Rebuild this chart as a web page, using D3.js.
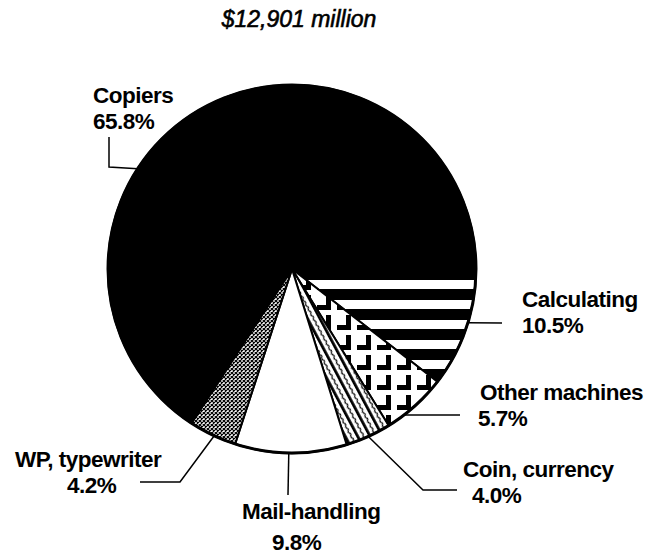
<!DOCTYPE html>
<html>
<head>
<meta charset="utf-8">
<script src="https://cdn.jsdelivr.net/npm/d3@7"></script>
<style>
  body { margin: 0; background: #fff; }
  text { font-family: "Liberation Sans", Arial, Helvetica, sans-serif; fill: #000; }
  .lbl { font-size: 22.5px; font-weight: bold; letter-spacing: -0.5px; }
  .title { font-size: 23px; font-style: italic; stroke: #000; stroke-width: 0.6px; }
  .leader { fill: none; stroke: #000; stroke-width: 1.5; }
</style>
</head>
<body>
<svg id="chart"></svg>
<script>
// data
const title = "$12,901 million";
const categories = ["Calculating", "Other machines", "Coin, currency", "Mail-handling", "WP, typewriter", "Copiers"];
const shares = [10.5, 5.7, 4.0, 9.8, 4.2, 65.8];
const shareLabels = ["10.5%", "5.7%", "4.0%", "9.8%", "4.2%", "65.8%"];
const fills = ["url(#stripes)", "url(#hooks)", "url(#diag)", "#fff", "url(#mesh)", "#000"];

// label layout: angle where the leader touches the pie (deg), elbow points, text position
const leaderAngles = [107, 142.5, 155.5, 181, 205, 303];
const leaderPoints = [
  [[502, 323]],
  [[460, 415]],
  [[423, 490], [457, 490]],
  [[288, 495]],
  [[180, 482], [140, 482]],
  [[109, 167], [109, 137]]
];
const labelPos = [[522, 307, 522], [480, 400, 478], [463, 477, 472], [242, 519, 272], [15, 467, 67], [93, 103, 93]];

const width = 654;
const height = 557;
const cx = 292, cy = 269, r = 184;

const svg = d3.select("#chart")
  .attr("width", width)
  .attr("height", height)
  .attr("viewBox", `0 0 ${width} ${height}`);

// fill patterns
const defs = svg.append("defs");

const stripes = defs.append("pattern")
  .attr("id", "stripes")
  .attr("patternUnits", "userSpaceOnUse")
  .attr("x", 0).attr("y", 11)
  .attr("width", 20).attr("height", 20);
stripes.append("rect").attr("width", 20).attr("height", 20).attr("fill", "#fff");
stripes.append("rect").attr("y", 9).attr("width", 20).attr("height", 11).attr("fill", "#000");

const hooks = defs.append("pattern")
  .attr("id", "hooks")
  .attr("patternUnits", "userSpaceOnUse")
  .attr("x", 2).attr("y", 4)
  .attr("width", 20).attr("height", 20);
hooks.append("rect").attr("width", 20).attr("height", 20).attr("fill", "#fff");
hooks.append("path").attr("d", "M12,2 h5 v15 h-14 v-5 h9 z").attr("fill", "#000");

const diag = defs.append("pattern")
  .attr("id", "diag")
  .attr("patternUnits", "userSpaceOnUse")
  .attr("width", 11).attr("height", 11)
  .attr("patternTransform", "rotate(-28)");
diag.append("rect").attr("width", 11).attr("height", 11).attr("fill", "#fff");
diag.append("rect").attr("x", 0).attr("width", 2.8).attr("height", 11).attr("fill", "#000");
diag.append("path").attr("d", "M6,0 L7.5,2.75 L6,5.5 L7.5,8.25 L6,11").attr("fill", "none").attr("stroke", "#000").attr("stroke-width", 1.2);

const mesh = defs.append("pattern")
  .attr("id", "mesh")
  .attr("patternUnits", "userSpaceOnUse")
  .attr("width", 4).attr("height", 4);
mesh.append("rect").attr("width", 4).attr("height", 4).attr("fill", "#fff");
mesh.append("path").attr("d", "M0,0 L4,4 M4,0 L0,4").attr("stroke", "#000").attr("stroke-width", 1.2);

// pie
const pie = d3.pie()
  .sort(null)
  .startAngle(Math.PI / 2)
  .endAngle(Math.PI / 2 + 2 * Math.PI)
  .value(d => d);

const arc = d3.arc().innerRadius(0).outerRadius(r);
const arcs = pie(shares);

const g = svg.append("g").attr("transform", `translate(${cx},${cy})`);

g.selectAll("path.slice")
  .data(arcs)
  .enter()
  .append("path")
  .attr("class", "slice")
  .attr("d", arc)
  .attr("fill", (d, i) => fills[i])
  .attr("stroke", "#000")
  .attr("stroke-width", 2)
  .attr("stroke-linejoin", "round");

g.append("circle")
  .attr("r", r)
  .attr("fill", "none")
  .attr("stroke", "#000")
  .attr("stroke-width", 3);

// leaders
const edgePoint = a => {
  const rad = a * Math.PI / 180;
  return [cx + r * Math.sin(rad), cy - r * Math.cos(rad)];
};

svg.selectAll("path.leader")
  .data(categories)
  .enter()
  .append("path")
  .attr("class", "leader")
  .attr("d", (d, i) => d3.line()([edgePoint(leaderAngles[i]), ...leaderPoints[i]]));

// labels
const labels = svg.selectAll("g.label")
  .data(categories)
  .enter()
  .append("g")
  .attr("class", "label");

labels.append("text")
  .attr("class", "lbl")
  .attr("x", (d, i) => labelPos[i][0])
  .attr("y", (d, i) => labelPos[i][1])
  .text(d => d);

labels.append("text")
  .attr("class", "lbl")
  .attr("x", (d, i) => labelPos[i][2])
  .attr("y", (d, i) => labelPos[i][1] + (i === 3 ? 31 : 26))
  .text((d, i) => shareLabels[i]);

svg.append("text")
  .attr("class", "title")
  .attr("x", 299)
  .attr("y", 27)
  .attr("text-anchor", "middle")
  .text(title);
</script>
</body>
</html>
